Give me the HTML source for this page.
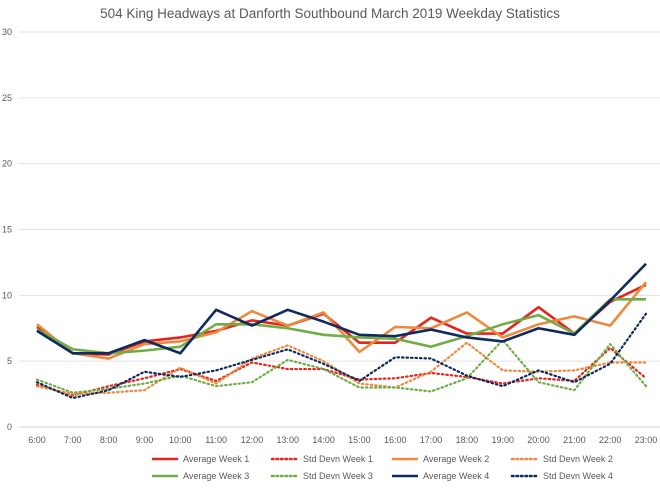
<!DOCTYPE html>
<html><head><meta charset="utf-8"><style>
body{margin:0;background:#fff;font-family:"Liberation Sans",sans-serif}
svg text{font-family:"Liberation Sans",sans-serif;fill:#595959}
</style></head><body>
<svg id="c" width="660" height="488">
<text x="330" y="18" text-anchor="middle" font-size="13.5">504 King Headways at Danforth Southbound March 2019 Weekday Statistics</text>
<g id="grid"></g><g id="series"></g><g id="legend"></g>
</svg>
<script>
const categories=["6:00","7:00","8:00","9:00","10:00","11:00","12:00","13:00","14:00","15:00","16:00","17:00","18:00","19:00","20:00","21:00","22:00","23:00"];
const yTicks=[0,5,10,15,20,25,30];
const avgW1=[7.6,5.6,5.5,6.5,6.8,7.3,8.1,7.7,8.6,6.4,6.4,8.3,7.1,7.1,9.1,7.1,9.5,10.8];
const avgW2=[7.8,5.6,5.2,6.3,6.5,7.2,8.8,7.7,8.7,5.7,7.6,7.5,8.7,6.8,7.8,8.4,7.7,11.0];
const avgW3=[7.4,5.9,5.6,5.8,6.1,7.8,7.8,7.5,7.0,6.8,6.7,6.1,6.9,7.8,8.5,7.1,9.7,9.7];
const avgW4=[7.3,5.6,5.6,6.6,5.6,8.9,7.7,8.9,8.0,7.0,6.9,7.4,6.8,6.5,7.5,7.0,9.6,12.4];
const sdW1=[3.2,2.4,3.1,3.7,4.4,3.5,4.9,4.4,4.4,3.6,3.7,4.1,3.8,3.3,3.7,3.5,6.0,3.7];
const sdW2=[3.1,2.5,2.6,2.8,4.5,3.3,5.2,6.2,5.0,3.3,3.0,4.2,6.4,4.3,4.2,4.3,4.9,4.9];
const sdW3=[3.6,2.6,2.9,3.3,3.9,3.1,3.4,5.1,4.4,3.0,3.0,2.7,3.7,6.6,3.4,2.8,6.3,3.1];
const sdW4=[3.4,2.2,2.8,4.2,3.8,4.3,5.1,5.9,4.8,3.5,5.3,5.2,3.9,3.1,4.3,3.4,4.8,8.6];
const NS="http://www.w3.org/2000/svg";
const x0=37,x1=646,y0=427,y1=32;
const X=i=>x0+i*(x1-x0)/(categories.length-1);
const Y=v=>y0-(v/30)*(y0-y1);
function mk(t,a,p){const e=document.createElementNS(NS,t);for(const k in a)e.setAttribute(k,a[k]);p.appendChild(e);return e;}
const grid=document.getElementById('grid');
yTicks.forEach(v=>{
 const l=mk('line',{x1:19,x2:660,y1:Y(v),y2:Y(v),stroke:v===0?'#d0d0d0':'#e3e3e3','stroke-width':1},grid);
 
 
 const t=mk('text',{x:12,y:Y(v)+3,'text-anchor':'end','font-size':9},grid);t.textContent=v;
 
 
});
categories.forEach((c,i)=>{
 const t=mk('text',{x:X(i),y:443,'text-anchor':'middle','font-size':9},grid);t.textContent=c;
 
 
});
const series=[
 {n:"Average Week 1",d:avgW1,c:"#e8231b",dash:false},
 {n:"Std Devn Week 1",d:sdW1,c:"#e8231b",dash:true},
 {n:"Average Week 2",d:avgW2,c:"#ed8a3f",dash:false},
 {n:"Std Devn Week 2",d:sdW2,c:"#ed8a3f",dash:true},
 {n:"Average Week 3",d:avgW3,c:"#70ad47",dash:false},
 {n:"Std Devn Week 3",d:sdW3,c:"#70ad47",dash:true},
 {n:"Average Week 4",d:avgW4,c:"#0f2a5e",dash:false},
 {n:"Std Devn Week 4",d:sdW4,c:"#0f2a5e",dash:true}];
const sg=document.getElementById('series'),lg=document.getElementById('legend');
series.forEach((s,k)=>{
 const p=mk('polyline',{points:s.d.map((v,i)=>X(i)+','+Y(v)).join(' '),fill:'none',stroke:s.c,'stroke-width':s.dash?2.2:2.6,'stroke-dasharray':s.dash?'1.5 3':'none','stroke-linecap':s.dash?'round':'butt','stroke-linejoin':'round'},sg);
 
 
 const row=k>=4?1:0;
 const colIdx=k%4;
 const gx=152+colIdx*120, gy=row?476:459;
 const g=mk('g',{},lg);
 
 
 mk('line',{x1:gx,x2:gx+26,y1:gy,y2:gy,stroke:s.c,'stroke-width':2.6,'stroke-dasharray':s.dash?'1.5 3':'none','stroke-linecap':s.dash?'round':'butt'},g);
 const t=mk('text',{x:gx+31,y:gy+3,'font-size':9},g);t.textContent=s.n;
});
</script>
</body></html>
